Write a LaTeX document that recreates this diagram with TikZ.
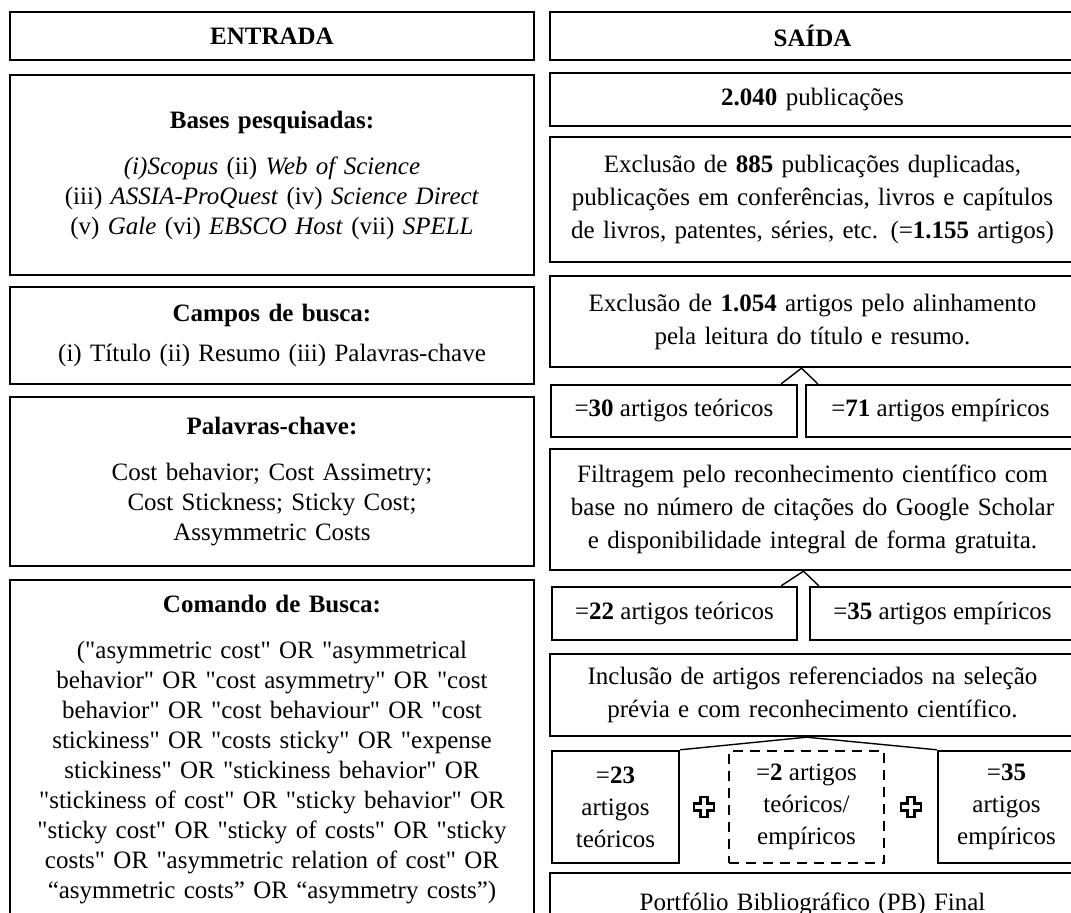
\documentclass[tikz,border=0pt]{standalone}
\usepackage{fontspec}
\setmainfont{Liberation Serif}[Ligatures=TeXOff]
\usetikzlibrary{calc}
\newcommand{\plusmark}[1]{\draw[line width=1.2pt] (#1) ++(-10,-3.5) -- ++(6.5,0) -- ++(0,-6.5) -- ++(7,0) -- ++(0,6.5) -- ++(6.5,0) -- ++(0,7) -- ++(-6.5,0) -- ++(0,6.5) -- ++(-7,0) -- ++(0,-6.5) -- ++(-6.5,0) -- cycle;}

\begin{document}
\begin{tikzpicture}[x=0.5pt,y=-0.5pt,
		font=\fontsize{12.5}{15}\selectfont,
		box/.style={draw, line width=1.2pt, align=center, inner sep=0pt},
		leftbox/.style={box, minimum width=262pt, text width=254pt},
		rightbox/.style={box, minimum width=262.5pt, text width=256pt, font=\fontsize{12.5}{16.5}\selectfont},
		dashbox/.style={box, dash pattern=on 5pt off 3.5pt},
		link/.style={line width=0.7pt}]
			\useasboundingbox (0,0) rectangle (1071,913);
			% entrada
			\node[leftbox, minimum height=24pt] (entrada) at (272,36) {\textbf{ENTRADA}};
			\node[leftbox, minimum height=100pt] (bases) at (272,175) {\textbf{Bases pesquisadas:}\\[8pt]
				\textit{(i)Scopus} (ii) \textit{Web of Science}\\
				(iii) \textit{ASSIA-ProQuest} (iv) \textit{Science Direct}\\
				(v) \textit{Gale} (vi) \textit{EBSCO Host} (vii) \textit{SPELL}};
			\node[leftbox, minimum height=48.5pt] (campos) at (272,335.5) {\textbf{Campos de busca:}\\[5pt]
				(i) Título (ii) Resumo (iii) Palavras-chave};
			\node[leftbox, minimum height=84.5pt] (palavras) at (272,481.5) {\textbf{Palavras-chave:}\\[8pt]
				Cost behavior; Cost Assimetry;\\
				Cost Stickness; Sticky Cost;\\
				Assymmetric Costs};
			\node[leftbox, minimum height=170pt] (comando) at (272,750) {\textbf{Comando de Busca:}\\[8pt]
				("asymmetric cost" OR "asymmetrical\\
				behavior" OR "cost asymmetry" OR "cost\\
				behavior" OR "cost behaviour" OR "cost\\
				stickiness" OR "costs sticky" OR "expense\\
				stickiness" OR "stickiness behavior" OR\\
				"stickiness of cost" OR "sticky behavior" OR\\
				"sticky cost" OR "sticky of costs" OR "sticky\\
				costs" OR "asymmetric relation of cost" OR\\
				“asymmetric costs” OR “asymmetry costs”)};
			% saida
			\node[rightbox, minimum height=24pt] (saida) at (812.5,36) {\textbf{SAÍDA}};
			\node[rightbox, minimum height=26.5pt] (pub) at (812.5,99.5) {\textbf{2.040} publicações};
			\node[rightbox, minimum height=62.5pt] (excl885) at (812.5,199.5) {Exclusão de \textbf{885} publicações duplicadas,\\
				publicações em conferências, livros e capítulos\\
				de livros, patentes, séries, etc. (=\textbf{1.155} artigos)};
			\node[rightbox, minimum height=45.5pt] (excl1054) at (812.5,321.5) {Exclusão de \textbf{1.054} artigos pelo alinhamento\\
				pela leitura do título e resumo.};
			\node[box, minimum width=123pt, minimum height=26pt] (t30) at (674,411) {=\textbf{30} artigos teóricos};
			\node[box, minimum width=134.5pt, minimum height=26pt] (e71) at (940.5,411) {=\textbf{71} artigos empíricos};
			\node[rightbox, minimum height=60.5pt] (filtr) at (812.5,509.5) {Filtragem pelo reconhecimento científico com\\
				base no número de citações do Google Scholar\\
				e disponibilidade integral de forma gratuita.};
			\node[box, minimum width=122.5pt, minimum height=26.5pt] (t22) at (674.5,613.5) {=\textbf{22} artigos teóricos};
			\node[box, minimum width=132.5pt, minimum height=26.5pt] (e35) at (942.5,613.5) {=\textbf{35} artigos empíricos};
			\node[rightbox, minimum height=41pt] (incl) at (812.5,695) {Inclusão de artigos referenciados na seleção\\
				prévia e com reconhecimento científico.};
			\node[box, minimum width=63.5pt, minimum height=56pt, font=\fontsize{12.5}{16}\selectfont] (t23) at (615.5,807) {=\textbf{23}\\ artigos\\ teóricos};
			\node[dashbox, minimum width=77.5pt, minimum height=56pt, font=\fontsize{12.5}{16}\selectfont] (dual) at (806.5,807) {=\textbf{2} artigos\\ teóricos/\\ empíricos};
			\node[box, minimum width=68.5pt, minimum height=56pt, font=\fontsize{12.5}{16}\selectfont] (e35b) at (1006.5,807) {=\textbf{35}\\ artigos\\ empíricos};
			\node[rightbox, minimum height=31pt] (final) at (812.5,904) {Portfólio Bibliográfico (PB) Final};
			% ligacoes
			\coordinate (g1) at ($(t30.north east)!0.5!(e71.north west)$);
			\coordinate (g2) at ($(t22.north east)!0.5!(e35.north west)$);
			\draw[link] ($(t30.north east)+(-17,0)$) -- (g1 |- excl1054.south) -- ($(e71.north west)+(13,0)$);
			\draw[link] ($(t22.north east)+(-17,0)$) -- (g2 |- filtr.south) -- ($(e35.north west)+(10,0)$);
			\draw[link] (t23.north east) -- (dual.north |- incl.south) -- (e35b.north west);
			\coordinate (p1) at ($(t23.east)!0.5!(dual.west)$);
			\coordinate (p2) at ($(dual.east)!0.5!(e35b.west)$);
			\plusmark{p1}
			\plusmark{p2}
		\end{tikzpicture}
\end{document}
